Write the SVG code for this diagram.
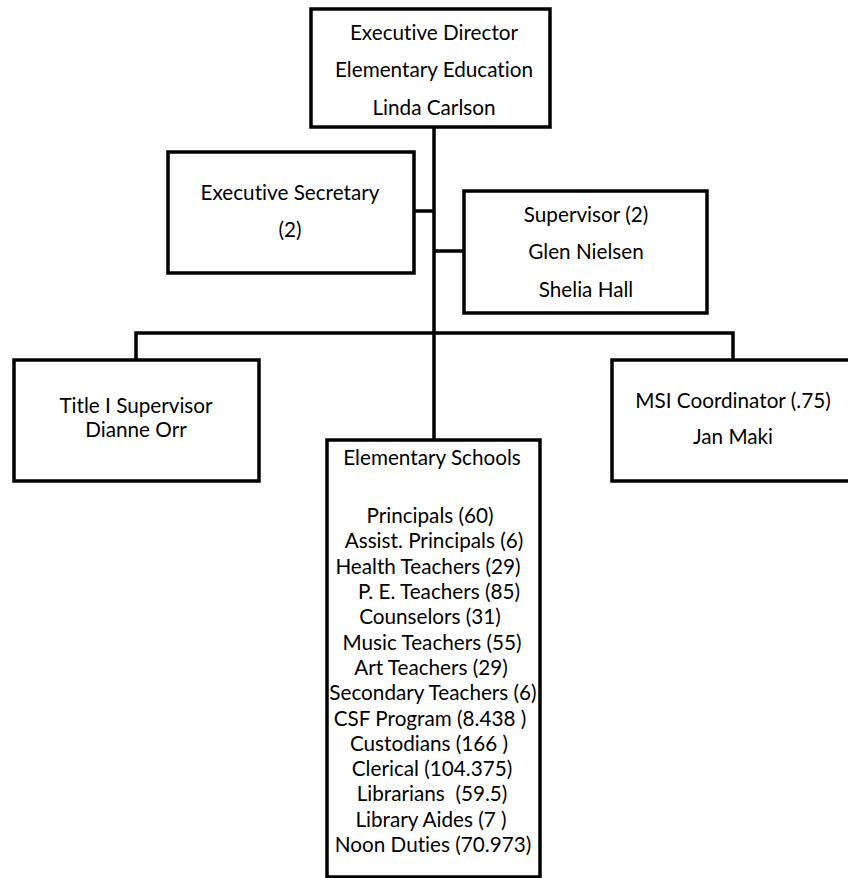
<svg xmlns="http://www.w3.org/2000/svg" width="848" height="878" viewBox="0 0 848 878">
<style>
.box{fill:#fff;stroke:#000;stroke-width:3.5}
.ln{stroke:#000;stroke-width:3.5;fill:none}
text{font-family:Lato,"Open Sans","Liberation Sans",sans-serif;font-size:20.7px;fill:#000;text-anchor:middle;font-variant-ligatures:none}
</style>
<rect width="848" height="878" fill="#fff"/>
<g id="connectors">
<line class="ln" x1="434" y1="127" x2="434" y2="440"/>
<line class="ln" x1="414" y1="211" x2="434" y2="211"/>
<line class="ln" x1="434" y1="251" x2="464" y2="251"/>
<polyline class="ln" points="136,360 136,333 733,333 733,360"/>
</g>
<g id="exec-director">
<rect class="box" x="311" y="9" width="239" height="118"/>
<text x="434" y="40">Executive Director</text>
<text x="434" y="77">Elementary Education</text>
<text x="434" y="115">Linda Carlson</text>
</g>
<g id="exec-secretary">
<rect class="box" x="168" y="152" width="246" height="121"/>
<text x="290" y="200">Executive Secretary</text>
<text x="290" y="237">(2)</text>
</g>
<g id="supervisor">
<rect class="box" x="464" y="191" width="243" height="122"/>
<text x="586" y="222">Supervisor (2)</text>
<text x="586" y="259">Glen Nielsen</text>
<text x="586" y="297">Shelia Hall</text>
</g>
<g id="title-i">
<rect class="box" x="14" y="360" width="245" height="121"/>
<text x="136" y="413">Title I Supervisor</text>
<text x="136" y="437">Dianne Orr</text>
</g>
<g id="msi">
<rect class="box" x="612" y="360" width="250" height="121"/>
<text x="733" y="408">MSI Coordinator (.75)</text>
<text x="733" y="444">Jan Maki</text>
</g>
<g id="elementary-schools">
<rect class="box" x="327" y="440" width="213" height="437"/>
<text x="432" y="465">Elementary Schools</text>
<text x="430" y="523">Principals (60)</text>
<text x="434" y="548">Assist. Principals (6)</text>
<text x="428" y="574">Health Teachers (29)</text>
<text x="439" y="599">P. E. Teachers (85)</text>
<text x="430" y="624">Counselors (31)</text>
<text x="432" y="650">Music Teachers (55)</text>
<text x="431" y="675">Art Teachers (29)</text>
<text x="433" y="700">Secondary Teachers (6)</text>
<text x="430" y="726">CSF Program (8.438 )</text>
<text x="429" y="751">Custodians (166 )</text>
<text x="432" y="776">Clerical (104.375)</text>
<text x="432" y="801" xml:space="preserve">Librarians  (59.5)</text>
<text x="431" y="827">Library Aides (7 )</text>
<text x="433" y="852">Noon Duties (70.973)</text>
</g>
</svg>
